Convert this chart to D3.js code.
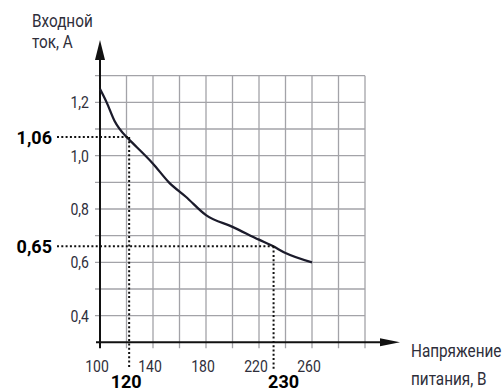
<!DOCTYPE html>
<html><head><meta charset="utf-8">
<script src="https://cdn.jsdelivr.net/npm/d3@7"></script>
<style>body{margin:0;background:#fff}svg{display:block}</style>
</head><body>
<svg id="c" width="503" height="391"></svg>
<script>
// Data
const voltage = [100, 105, 111, 120, 122, 140, 152, 165, 180, 200, 220, 230, 240, 260];
const current = [1.25, 1.20, 1.13, 1.07, 1.06, 0.97, 0.90, 0.845, 0.777, 0.733, 0.685, 0.662, 0.635, 0.60];
const xTicks = [100, 140, 180, 220, 260];
const yTicks = [0.4, 0.6, 0.8, 1.0, 1.2];
const xGrid = [100, 120, 140, 160, 180, 200, 220, 240, 260, 280, 300];
const yGrid = [0.3, 0.4, 0.5, 0.6, 0.7, 0.8, 0.9, 1.0, 1.1, 1.2, 1.3];
const refV = [122, 231];
const refVLabels = ["120", "230"];
const refI = [1.07, 0.66];
const refILabels = ["1,06", "0,65"];
const yTitle = ["Входной", "ток, А"];
const xTitle = ["Напряжение", "питания, В"];

const svg = d3.select("#c");
const x = d3.scaleLinear().domain([100, 300]).range([100, 365]);
const y = d3.scaleLinear().domain([0.3, 1.3]).range([342.3, 75.7]);
const fmt = v => d3.format(".1f")(v).replace(".", ",");
const txtCol = "#2e2e3a";
const SX = 0.85;

function label(g, tx, ty, s, opts) {
  return g.append("text")
    .attr("transform", `translate(${tx},${ty}) scale(${opts.scale || 1},1)`)
    .attr("text-anchor", opts.anchor || "start")
    .attr("font-family", "Roboto, sans-serif")
    .attr("font-size", opts.size || 16.5)
    .attr("font-weight", opts.weight || "normal")
    .attr("fill", opts.fill || txtCol)
    .text(s);
}

// grid
const grid = svg.append("g").attr("stroke", "#a3a3a8").attr("stroke-width", 1.3);
grid.selectAll(".v").data(xGrid.slice(1)).join("line")
  .attr("x1", d => x(d)).attr("x2", d => x(d))
  .attr("y1", y(1.3)).attr("y2", y(0.3) + 6);
grid.selectAll(".h").data(yGrid.slice(1)).join("line")
  .attr("y1", d => y(d)).attr("y2", d => y(d))
  .attr("x1", x(100) - 5).attr("x2", x(300));

// axes
const ax = svg.append("g").attr("stroke", "#111").attr("stroke-width", 2);
ax.append("line").attr("x1", x(100)).attr("x2", x(100)).attr("y1", y(0.3) + 6).attr("y2", 58);
ax.append("line").attr("x1", x(100) - 4).attr("x2", 384).attr("y1", y(0.3)).attr("y2", y(0.3));
svg.append("path").attr("fill", "#111")
  .attr("d", `M${x(100)},40 L${x(100) - 5},60 L${x(100) + 5},60 Z`);
svg.append("path").attr("fill", "#111")
  .attr("d", `M400,${y(0.3)} L380,${y(0.3) - 4} L380,${y(0.3) + 4} Z`);

// curve
const line = d3.line().x((d, i) => x(voltage[i])).y(d => y(d)).curve(d3.curveMonotoneX);
svg.append("path").datum(current).attr("d", line)
  .attr("fill", "none").attr("stroke", "#1b1b2b").attr("stroke-width", 2.3);

// reference dotted lines
const dots = svg.append("g").attr("stroke", "#111").attr("stroke-width", 2).attr("stroke-dasharray", "2,2.3").attr("fill", "none");
refI.forEach((v, i) => {
  dots.append("line").attr("x1", 57).attr("x2", x(refV[i])).attr("y1", y(v)).attr("y2", y(v));
  dots.append("line").attr("x1", x(refV[i])).attr("x2", x(refV[i])).attr("y1", y(v)).attr("y2", 369);
});

// tick labels
const tl = svg.append("g");
yTicks.forEach(v => label(tl, 89, y(v) + 6, fmt(v), {anchor: "end", scale: SX}));
xTicks.forEach(v => label(tl, x(v) - 3, 372, String(v), {anchor: "middle", scale: SX}));

// bold reference labels
refILabels.forEach((s, i) => label(tl, 52, y(refI[i]) + 6.5, s, {anchor: "end", size: 18, weight: "bold", fill: "#000"}));
refVLabels.forEach((s, i) => label(tl, x(refV[i]) + (i === 0 ? -3 : 10), 388, s, {anchor: "middle", size: 18, weight: "bold", fill: "#000"}));

// titles
yTitle.forEach((s, i) => label(tl, 32, 27 + i * 21, s, {size: 18, scale: SX}));
xTitle.forEach((s, i) => label(tl, 411, 357 + i * 27.5, s, {size: 18, scale: SX}));
</script>
</body></html>
